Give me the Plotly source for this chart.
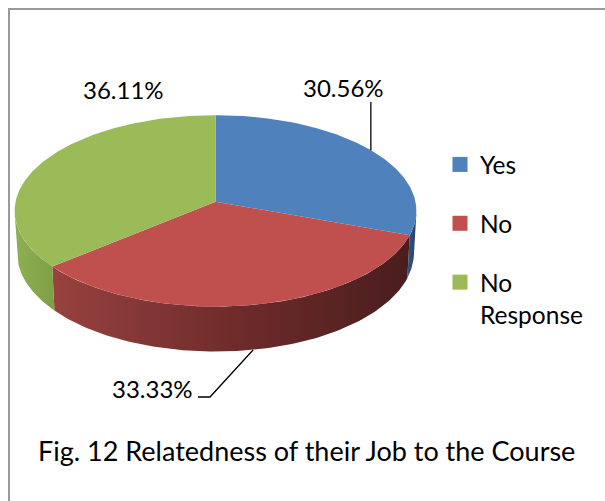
import numpy as np
import plotly.graph_objects as go

# ---- data -------------------------------------------------------------
categories = ["Yes", "No", "No Response"]
legend_names = ["Yes", "No", "No<br>Response"]
shares = [30.56, 33.33, 36.11]
top_colors = ["#4f81bd", "#c0504d", "#9bbb59"]
side_scales = [
    [[0, "#35598a"], [1, "#24406a"]],
    [[0, "#97423f"], [0.5, "#6f2c2b"], [1, "#4a1d1d"]],
    [[0, "#8eb054"], [1, "#7f9f46"]],
]
caption = "Fig. 12 Relatedness of their Job to the Course"

FONT = "Lato"

# ---- perspective projection of a unit disc tilted toward the viewer ----
CX, CY = 215.5, 201.7          # projected disc centre (page pixels)
FOCAL, DIST = 1848.0, 9.24
TILT = np.radians(28.3)
THICK = 0.242                  # slab thickness in disc radii


def project(theta, height=0.0):
    theta = np.asarray(theta, dtype=float)
    X, Z = np.sin(theta), np.cos(theta)
    depth = DIST + Z * np.cos(TILT) - height * np.sin(TILT)
    v = height * np.cos(TILT) + Z * np.sin(TILT)
    return CX + FOCAL * X / depth, CY - FOCAL * v / depth


# angular extent of every slice, clockwise from 12 o'clock
fractions = np.array(shares) / np.sum(shares)
edges = np.concatenate([[0.0], np.cumsum(fractions)]) * 2 * np.pi
mids = (edges[:-1] + edges[1:]) / 2

# rim is only seen where its outward normal faces the camera
side_lo = np.arccos(-1.0 / (DIST * np.cos(TILT)))
side_hi = 2 * np.pi - side_lo

fig = go.Figure()

# outer walls first
for i in range(len(shares)):
    a0, a1 = max(edges[i], side_lo), min(edges[i + 1], side_hi)
    if a1 <= a0:
        continue
    t = np.linspace(a0, a1, 120)
    tx, ty = project(t, 0.0)
    bx, by = project(t[::-1], -THICK)
    fig.add_trace(go.Scatter(
        x=np.concatenate([tx, bx, tx[:1]]),
        y=np.concatenate([ty, by, ty[:1]]),
        mode="lines", fill="toself", line=dict(width=0),
        fillcolor=top_colors[i],
        fillgradient=dict(type="horizontal", colorscale=side_scales[i]),
        hoverinfo="skip", showlegend=False,
    ))

# top faces
for i in range(len(shares)):
    t = np.linspace(edges[i], edges[i + 1], 200)
    rx, ry = project(t, 0.0)
    fig.add_trace(go.Scatter(
        x=np.concatenate([[CX], rx, [CX]]),
        y=np.concatenate([[CY], ry, [CY]]),
        mode="lines", fill="toself", line=dict(width=0),
        fillcolor=top_colors[i],
        name=categories[i], hoverinfo="name", showlegend=False,
    ))

# legend entries
for i in range(len(shares)):
    fig.add_trace(go.Scatter(
        x=[None], y=[None], mode="markers",
        marker=dict(symbol="square", size=15, color=top_colors[i]),
        name=legend_names[i], legendgroup=categories[i], showlegend=True,
    ))

# data labels with leader lines
labels = [f"{v:.2f}%" for v in shares]
annotations = []

# Yes: label above, vertical leader down to the rim
lx, ly = 343, 87
px, py = project(mids[0], 0.0)
fig.add_trace(go.Scatter(x=[px, px], y=[py, ly + 15], mode="lines",
                         line=dict(color="black", width=1.3),
                         hoverinfo="skip", showlegend=False))
annotations.append(dict(x=lx, y=ly, text=labels[0]))

# No: label below-left, bent leader to the lower rim
lx, ly = 152, 388
px, py = project(mids[1], -THICK)
fig.add_trace(go.Scatter(x=[px, lx + 58, lx + 46], y=[py, ly + 9, ly + 9],
                         mode="lines", line=dict(color="black", width=1.3),
                         hoverinfo="skip", showlegend=False))
annotations.append(dict(x=lx, y=ly, text=labels[1]))

# No Response: label sits just above its slice
annotations.append(dict(x=123, y=89, text=labels[2]))

for a in annotations:
    a.update(xref="x", yref="y", showarrow=False, xanchor="center",
             yanchor="middle", font=dict(family=FONT, size=24, color="black"))

annotations.append(dict(x=306, y=450, xref="x", yref="y", text=caption,
                        showarrow=False, xanchor="center", yanchor="middle",
                        font=dict(family=FONT, size=27, color="black")))

fig.update_layout(
    width=605, height=501, autosize=False,
    margin=dict(l=0, r=0, t=0, b=0),
    paper_bgcolor="white", plot_bgcolor="white",
    xaxis=dict(range=[0, 605], visible=False, fixedrange=True),
    yaxis=dict(range=[501, 0], visible=False, fixedrange=True),
    annotations=annotations,
    shapes=[dict(type="rect", xref="x", yref="y", x0=9, y0=9, x1=650, y1=560,
                 line=dict(color="#9a9a9a", width=2), layer="below")],
    legend=dict(x=440 / 605, y=1 - 142 / 501, xanchor="left", yanchor="top",
                font=dict(family=FONT, size=24.5, color="black"),
                tracegroupgap=24, valign="top", traceorder="grouped",
                bgcolor="rgba(0,0,0,0)", itemsizing="trace"),
)

fig.write_html("out.html")
